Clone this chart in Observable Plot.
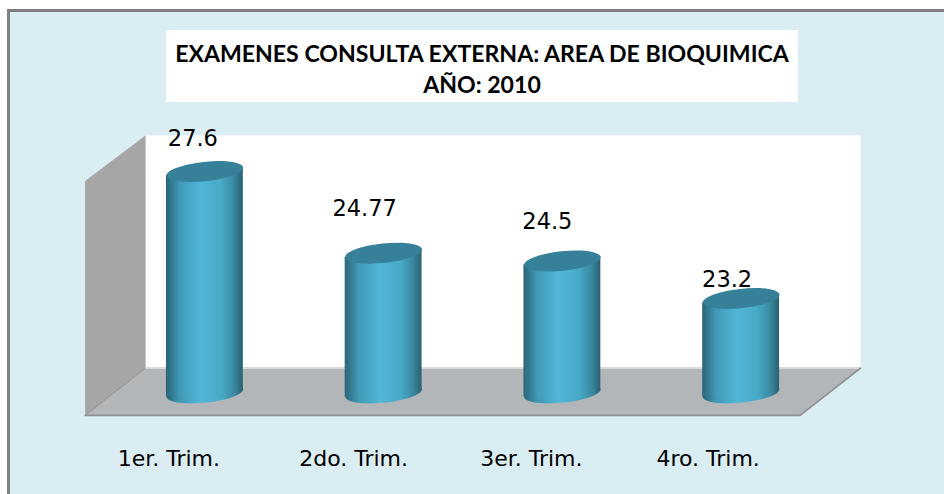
<!DOCTYPE html>
<html>
<head>
<meta charset="utf-8">
<script src="https://cdn.jsdelivr.net/npm/d3@7"></script>
<script src="https://cdn.jsdelivr.net/npm/@observablehq/plot@0.6"></script>
<style>
  html, body { margin: 0; padding: 0; background: #fff; }
  #frame { position: absolute; left: 7px; top: 9px; width: 937px; height: 485px; box-sizing: border-box;
           background: #daedf3; border-left: 3px solid #808080; border-top: 3px solid #808080; }
  #chart { position: absolute; left: 0; top: 0; width: 944px; height: 494px; }
  #chart svg { background: transparent; display: block; }
  #title { position: absolute; left: 166px; top: 30px; width: 632px; height: 72px; background: #fff; color: #000;
           font: bold 23.1px/30.5px Lato, sans-serif; text-align: center; padding-top: 8px; box-sizing: border-box; white-space: nowrap; }
</style>
</head>
<body>
<div id="frame"></div>
<div id="chart"></div>
<div id="title">EXAMENES CONSULTA EXTERNA: AREA DE BIOQUIMICA<br>AÑO: 2010</div>
<script>
const categories = ["1er. Trim.", "2do. Trim.", "3er. Trim.", "4ro. Trim."];
const values = [27.6, 24.77, 24.5, 23.2];
const valueLabels = ["27.6", "24.77", "24.5", "23.2"];
const slots = [0.5, 1.5, 2.5, 3.5];

// hand placement of the labels, as in the reference
const labelNudgeX = [-12, -19, -15, -14];
const labelNudgeY = [-33, -44, -39, -19];
const categoryNudgeX = [-36, -30, -31, -33];

// 3D box of the chart, in axis units (slot, value)
const backWall = [[0.168, 20.79], [4.168, 20.79], [4.168, 28.85], [0.168, 28.85]];
const sideWall = [[-0.17, 19.15], [0.168, 20.79], [0.168, 28.85], [-0.17, 27.27]];
const floorPlate = [[-0.17, 19.15], [0.168, 20.79], [4.168, 20.79], [3.83, 19.15]];
const backEdge = [[0.168, 20.79], [4.168, 20.79]];

const base = 19.93;
const halfWidth = 0.215;
const tilt = 0.139;

const ellipse = {
  draw(ctx, size) {
    const rx = Math.sqrt(size / Math.PI), ry = rx * 0.252, a = -6 * Math.PI / 180, k = 0.5523;
    const P = (x, y) => [x * Math.cos(a) - y * Math.sin(a), x * Math.sin(a) + y * Math.cos(a)];
    ctx.moveTo(...P(rx, 0));
    ctx.bezierCurveTo(...P(rx, k * ry), ...P(k * rx, ry), ...P(0, ry));
    ctx.bezierCurveTo(...P(-k * rx, ry), ...P(-rx, k * ry), ...P(-rx, 0));
    ctx.bezierCurveTo(...P(-rx, -k * ry), ...P(-k * rx, -ry), ...P(0, -ry));
    ctx.bezierCurveTo(...P(k * rx, -ry), ...P(rx, -k * ry), ...P(rx, 0));
    ctx.closePath();
  }
};

const table = categories.map((c, i) => ({c, v: values[i], s: slots[i]}));
const body = table.flatMap(d => [
  {c: d.c, x: d.s - halfWidth, y1: base - tilt, y2: d.v - tilt},
  {c: d.c, x: d.s + halfWidth, y1: base + tilt, y2: d.v + tilt}
]);

function gradient() {
  const defs = d3.create("svg:defs");
  const g = defs.append("linearGradient").attr("id", "cyl").attr("x1", 0).attr("x2", 1).attr("y1", 0).attr("y2", 0);
  [[0, "#2b6579"], [0.07, "#33798f"], [0.18, "#419ab6"], [0.45, "#50b7d8"], [0.72, "#48a9c6"], [0.88, "#3a8aa3"], [1, "#28606f"]]
    .forEach(([o, c]) => g.append("stop").attr("offset", o).attr("stop-color", c));
  return defs.node();
}

const poly = (pts, fill) => Plot.line(pts, {x: d => d[0], y: d => d[1], fill, stroke: null});

const chart = Plot.plot({
  width: 944,
  height: 494,
  marginTop: 0, marginRight: 0, marginLeft: 0, marginBottom: 0,
  style: {background: "transparent", fontFamily: "'DejaVu Sans', sans-serif", color: "#000", overflow: "visible"},
  x: {type: "linear", domain: [0, 4], range: [115, 830], axis: null},
  y: {type: "linear", domain: [20, 28], range: [390.4, 159.5], axis: null},
  marks: [
    gradient,
    poly(backWall, "#ffffff"),
    poly(sideWall, "#a6a6a6"),
    poly(floorPlate, "#b2b6b9"),
    Plot.line(backEdge, {x: d => d[0], y: d => d[1], stroke: "#d9d9d9", strokeWidth: 2}),
    Plot.line([sideWall[0], sideWall[1]], {x: d => d[0], y: d => d[1], stroke: "#8f8f8f", strokeWidth: 1}),
    Plot.line([floorPlate[0], floorPlate[3], floorPlate[2]], {x: d => d[0], y: d => d[1], stroke: "#8c8c8c", strokeWidth: 1.5}),
    Plot.dot(table, {x: "s", y: () => base, r: 38.5, symbol: ellipse, fill: "url(#cyl)", stroke: null}),
    Plot.areaY(body, {x: "x", y1: "y1", y2: "y2", z: "c", fill: "url(#cyl)", stroke: null}),
    Plot.dot(table, {x: "s", y: "v", r: 38.5, symbol: ellipse, fill: "#37809a", stroke: null}),
    ...table.map((d, i) => Plot.text([d], {
      x: "s", y: "v", text: () => valueLabels[i],
      dx: labelNudgeX[i], dy: labelNudgeY[i], fontSize: 22.5, fill: "#000", stroke: null
    })),
    ...table.map((d, i) => Plot.text([d], {
      x: "s", frameAnchor: "bottom", text: "c", lineAnchor: "middle",
      dx: categoryNudgeX[i], dy: -36, fontSize: 22, fill: "#000", stroke: null
    }))
  ]
});
document.getElementById("chart").appendChild(chart);
</script>
</body>
</html>
